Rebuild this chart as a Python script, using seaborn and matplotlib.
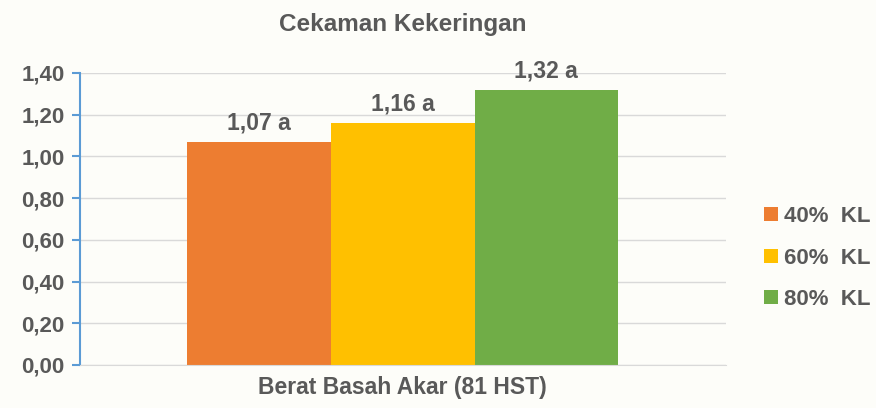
import seaborn as sns
import matplotlib.pyplot as plt
import pandas as pd

# data
kategori = ['Berat Basah Akar (81 HST)']
perlakuan = ['40%  KL', '60%  KL', '80%  KL']
nilai = [1.07, 1.16, 1.32]
notasi = ['a', 'a', 'a']
warna = ['#ed7d31', '#ffc000', '#70ad47']
yticks = [0.0, 0.2, 0.4, 0.6, 0.8, 1.0, 1.2, 1.4]

df = pd.DataFrame({'kategori': kategori * 3, 'perlakuan': perlakuan, 'nilai': nilai})

sns.set_style('white')
plt.rcParams['font.family'] = ['Liberation Sans', 'DejaVu Sans']
teks = '#595959'

fig = plt.figure(figsize=(8.76, 4.08), dpi=100, facecolor='#fdfdf9')
ax = fig.add_axes([0.0913, 0.1054, 0.737, 0.716])
ax.set_facecolor('#fdfdf9')

sns.barplot(data=df, x='kategori', y='nilai', hue='perlakuan', palette=warna,
            width=0.667, saturation=1, linewidth=0, edgecolor='none', ax=ax, legend=True)

# label di atas batang
for bar, v, n in zip(ax.patches, nilai, notasi):
    ax.text(bar.get_x() + bar.get_width() / 2, v + 0.035, f'{v:.2f}'.replace('.', ',') + ' ' + n,
            ha='center', va='bottom', fontsize=16.5, fontweight='bold', color=teks)

ax.set_ylim(0, 1.4)
ax.set_yticks(yticks)
ax.set_yticklabels([f'{t:.2f}'.replace('.', ',') for t in yticks],
                   fontsize=16, fontweight='bold', color=teks)
ax.set_xticks([])
ax.set_xlabel(kategori[0], fontsize=16.5, fontweight='bold', color=teks, labelpad=8)
ax.set_ylabel('')
ax.set_title('Cekaman Kekeringan', fontsize=17.5, fontweight='bold', color=teks, pad=30)

ax.yaxis.grid(True, color='#d9d9d9', linewidth=1)
ax.set_axisbelow(True)
for s in ['top', 'right']:
    ax.spines[s].set_visible(False)
ax.spines['left'].set_color('#5b9bd5')
ax.spines['left'].set_linewidth(1.5)
ax.spines['bottom'].set_color('#d9d9d9')
ax.tick_params(axis='y', left=True, length=6, width=1.5, color='#5b9bd5', pad=5)

leg = ax.legend(loc='center left', bbox_to_anchor=(1.06, 0.366), frameon=False,
                borderaxespad=0, borderpad=0,
                handlelength=0.6, handleheight=0.6, handletextpad=0.3,
                labelspacing=0.93, prop={'size': 16, 'weight': 'bold'})
for t in leg.get_texts():
    t.set_color(teks)

fig.savefig('out.png', dpi=100, facecolor=fig.get_facecolor())
